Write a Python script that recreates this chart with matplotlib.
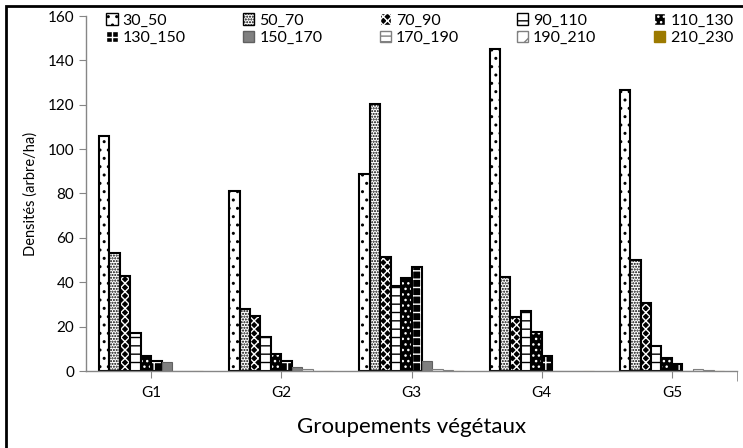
import numpy as np
import matplotlib
matplotlib.use("Agg")
import matplotlib.pyplot as plt
from matplotlib.patches import Rectangle

plt.rcParams["font.family"] = ["Lato", "DejaVu Sans"]
plt.rcParams["hatch.linewidth"] = 1.0

groups = ["G1", "G2", "G3", "G4", "G5"]
classes = ["30_50", "50_70", "70_90", "90_110", "110_130",
           "130_150", "150_170", "170_190", "190_210", "210_230"]
# density per diameter class (rows = classes, cols = groups)
d30_50 = [106, 81, 89, 145, 126.5]
d50_70 = [53, 28, 120.5, 42.5, 50]
d70_90 = [42.8, 24.8, 51.2, 24.5, 30.8]
d90_110 = [17, 15.2, 38.3, 27.2, 11.4]
d110_130 = [6.8, 7.7, 42, 17.7, 6]
d130_150 = [4.5, 4.6, 46.7, 6.8, 3.2]
d150_170 = [4, 1.7, 4.6, 0, 0]
d170_190 = [0, 1.1, 0.9, 0, 1.1]
d190_210 = [0, 0, 0.3, 0, 0.3]
d210_230 = [0, 0, 0, 0, 0]
values = [d30_50, d50_70, d70_90, d90_110, d110_130,
          d130_150, d150_170, d170_190, d190_210, d210_230]

# (face, hatch, hatch colour, edge colour)
styles = [
    ("white", "..", "black", "black"),
    ("white", "......", "black", "black"),
    ("black", "xxxx", "white", "black"),
    ("white", "--", "black", "black"),
    ("black", "...", "white", "black"),
    ("black", "++", "white", "black"),
    ("#808080", None, "#606060", "#606060"),
    ("white", "---", "#808080", "#808080"),
    ("white", "//", "#808080", "#808080"),
    ("#9c7a00", None, "#9c7a00", "#9c7a00"),
]


def main():
    fig = plt.figure(figsize=(7.43, 4.48), dpi=100)
    ax = fig.add_axes([86 / 743, 1 - 371 / 448, 651 / 743, 355 / 448])

    x = np.arange(len(groups))
    w = 0.08
    handles = []
    for i, (vals, (fc, hatch, hc, ec)) in enumerate(zip(values, styles)):
        pos = x + (i - 4.5) * w
        # fill + hatch drawn with hatch colour, outline drawn on top
        ax.bar(pos, vals, w, color=fc, edgecolor=hc, hatch=hatch, linewidth=0)
        lw = 1.5 if ec == "black" else 0.8
        ax.bar(pos, vals, w, facecolor="none", edgecolor=ec, linewidth=lw)
        h = Rectangle((0, 0), 1, 1, facecolor=fc, edgecolor=hc, hatch=hatch,
                      linewidth=1.0)
        handles.append(h)

    ax.set_xlim(-0.5, 4.5)
    ax.set_ylim(0, 160)
    ax.set_yticks(np.arange(0, 161, 20))
    ax.set_xticks(x)
    ax.set_xticklabels(groups)
    ax.set_xticks([4.5], minor=True)

    for s in ["top", "right"]:
        ax.spines[s].set_visible(False)
    for s in ["left", "bottom"]:
        ax.spines[s].set_color("#868686")
        ax.spines[s].set_linewidth(1.0)
    ax.tick_params(axis="both", which="both", color="#868686", direction="out",
                   length=5, labelsize=11)
    ax.tick_params(axis="x", pad=6)
    ax.tick_params(axis="x", which="minor", length=7)

    ax.set_ylabel("Densités (arbre/ha)", fontsize=10.5, labelpad=7)
    ax.set_xlabel("Groupements végétaux", fontsize=16, labelpad=12)

    # legend is filled column by column, reorder to read row by row
    order = [0, 5, 1, 6, 2, 7, 3, 8, 4, 9]
    ax.legend([handles[k] for k in order], [classes[k] for k in order],
              ncol=5, loc="upper left",
              bbox_to_anchor=(100 / 743, 1 - 7 / 448, 640 / 743, 0.0),
              bbox_transform=fig.transFigure, mode="expand",
              frameon=False, fontsize=11.5, handlelength=0.7, handleheight=0.7,
              handletextpad=0.3, labelspacing=0.2, borderaxespad=0)

    # black frame of the figure box (cropped on the right and bottom)
    fig.add_artist(Rectangle((6 / 743, -0.5), 2.0, 1.5 - 6 / 448,
                             transform=fig.transFigure, fill=False,
                             edgecolor="black", linewidth=2.0))

    fig.savefig("out.png", dpi=100)


if __name__ == "__main__":
    main()
